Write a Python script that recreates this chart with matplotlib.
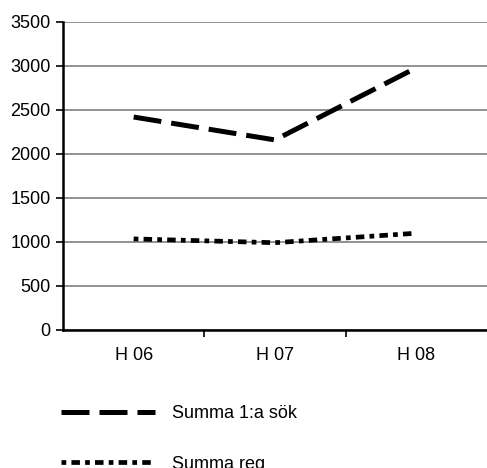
import matplotlib
matplotlib.use("Agg")
import matplotlib.pyplot as plt
from matplotlib.ticker import FixedLocator

categories = ["H 06", "H 07", "H 08"]
summa_sok = [2420, 2160, 2980]
summa_reg = [1035, 992, 1100]
labels = ["Summa 1:a sök", "Summa reg"]
yticks = [0, 500, 1000, 1500, 2000, 2500, 3000, 3500]

plt.rcParams['font.family'] = ['Liberation Sans', 'DejaVu Sans']
FS = 13

fig = plt.figure(figsize=(4.87, 4.68), dpi=100)
ax = fig.add_axes([63/487, 138/468, 424/487, 308/468])

x = list(range(len(categories)))
ax.plot(x, summa_sok, color='black', lw=3.6, dashes=(5.6, 2.0), solid_capstyle='butt',
        dash_capstyle='butt', label=labels[0])
ax.plot(x, summa_reg, color='black', lw=3.4, dashes=(1.0, 1.1, 1.8, 1.1),
        dash_capstyle='butt', label=labels[1])

ax.set_xlim(-0.5, 2.5)
ax.set_ylim(0, 3500)
ax.set_yticks(yticks)
ax.set_xticks(x)
ax.set_xticklabels(categories)
ax.xaxis.set_minor_locator(FixedLocator([0.5, 1.5]))
ax.tick_params(axis='x', which='major', length=0, pad=12, labelsize=FS)
ax.tick_params(axis='x', which='minor', length=5, width=1.2, direction='out')
ax.tick_params(axis='y', length=5, width=1.2, pad=4, labelsize=FS)
ax.grid(axis='y', color='#8a8a8a', lw=1.3)
ax.set_axisbelow(True)
for s in ['top', 'right']:
    ax.spines[s].set_visible(False)
for s in ['left', 'bottom']:
    ax.spines[s].set_linewidth(1.8)
    ax.spines[s].set_color('black')

fig.legend(loc='upper left', bbox_to_anchor=(45/487, 1 - 389/468), frameon=False,
           fontsize=FS, handlelength=5.2, handletextpad=0.95, labelspacing=1.85)

fig.savefig("out.png", dpi=100)
